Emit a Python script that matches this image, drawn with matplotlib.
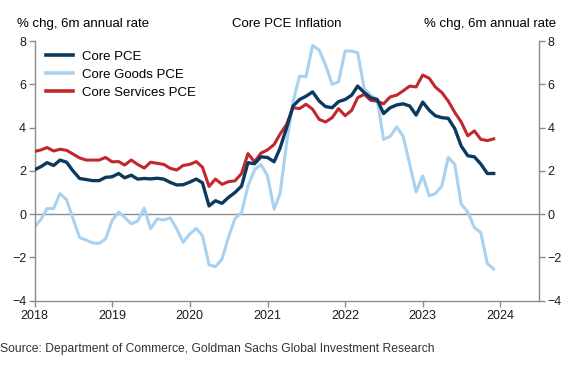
import matplotlib
matplotlib.use("Agg")
import matplotlib.pyplot as plt
import matplotlib.dates as mdates
import pandas as pd

# monthly data, Jan 2018 - Dec 2023 (% chg, 6m annual rate)
months = pd.date_range("2018-01-01", periods=72, freq="MS")

core_pce = [
    2.05, 2.2, 2.38, 2.25, 2.5, 2.4, 2.0, 1.65, 1.6, 1.55,
    1.55, 1.7, 1.73, 1.88, 1.68, 1.8, 1.62, 1.65, 1.63, 1.66,
    1.62, 1.47, 1.35, 1.36, 1.48, 1.62, 1.45, 0.38, 0.62, 0.5,
    0.77, 1.0, 1.3, 2.38, 2.33, 2.65, 2.62, 2.42, 3.05, 4.0,
    5.0, 5.3, 5.45, 5.65, 5.23, 4.97, 4.92, 5.2, 5.3, 5.5,
    5.92, 5.62, 5.38, 5.3, 4.65, 4.92, 5.05, 5.1, 5.0, 4.58,
    5.18, 4.8, 4.55, 4.46, 4.43, 3.95, 3.15, 2.7, 2.65, 2.32,
    1.88, 1.88,
]
core_goods = [
    -0.6, -0.23, 0.26, 0.26, 0.95, 0.66, -0.2, -1.08, -1.2, -1.33,
    -1.35, -1.15, -0.3, 0.1, -0.15, -0.45, -0.32, 0.28, -0.68, -0.22,
    -0.27, -0.17, -0.68, -1.3, -0.92, -0.66, -1.0, -2.34, -2.43, -2.08,
    -1.08, -0.2, 0.08, 1.3, 2.05, 2.3, 1.77, 0.23, 0.95, 3.3,
    5.2, 6.38, 6.35, 7.8, 7.58, 6.9, 6.0, 6.12, 7.54, 7.54,
    7.46, 5.8, 5.5, 5.3, 3.45, 3.6, 4.03, 3.6, 2.3, 1.03,
    1.77, 0.85, 0.95, 1.3, 2.62, 2.3, 0.46, 0.1, -0.62, -0.85,
    -2.28, -2.54,
]
core_services = [
    2.9, 2.97, 3.08, 2.92, 3.0, 2.95, 2.78, 2.6, 2.5, 2.5,
    2.5, 2.62, 2.42, 2.43, 2.27, 2.5, 2.3, 2.13, 2.4, 2.35,
    2.3, 2.12, 2.04, 2.25, 2.3, 2.43, 2.17, 1.28, 1.62, 1.38,
    1.5, 1.54, 1.88, 2.8, 2.42, 2.82, 2.97, 3.22, 3.7, 4.15,
    4.92, 4.88, 5.08, 4.85, 4.38, 4.26, 4.46, 4.88, 4.55, 4.8,
    5.38, 5.54, 5.26, 5.22, 5.1, 5.42, 5.5, 5.7, 5.92, 5.88,
    6.43, 6.28, 5.88, 5.62, 5.23, 4.7, 4.26, 3.62, 3.85, 3.46,
    3.4, 3.48,
]

yticks = [-4, -2, 0, 2, 4, 6, 8]
years = [2018, 2019, 2020, 2021, 2022, 2023, 2024]

navy = "#0c3a5f"
light = "#a9d1f0"
red = "#c1272d"
grey = "#8c8c8c"

plt.rcParams["font.family"] = ["Liberation Sans", "DejaVu Sans"]

fig = plt.figure(figsize=(5.81, 3.70), dpi=100)
ax = fig.add_axes([0.0594, 0.1873, 0.8683, 0.7017])

ax.axhline(0, color=grey, lw=1, zorder=1)
ax.plot(months, core_pce, color=navy, lw=2.4, label="Core PCE", zorder=4)
ax.plot(months, core_goods, color=light, lw=2.2, label="Core Goods PCE", zorder=2)
ax.plot(months, core_services, color=red, lw=2.2, label="Core Services PCE", zorder=3)

ax.set_xlim(pd.Timestamp("2018-01-01"), pd.Timestamp("2024-07-01"))
ax.set_ylim(-4, 8)
ax.set_yticks(yticks)
ax.set_yticklabels([str(t).replace("-", "\u2212") for t in yticks])
ax.set_xticks([pd.Timestamp(f"{y}-01-01") for y in years])
ax.xaxis.set_major_formatter(mdates.DateFormatter("%Y"))

ax.spines["top"].set_visible(False)
for side in ["left", "right", "bottom"]:
    ax.spines[side].set_color(grey)
    ax.spines[side].set_linewidth(1)

ax.tick_params(axis="both", colors=grey, labelcolor="#1a1a1a", labelsize=9,
               length=4, width=1, direction="out")
ax.tick_params(axis="y", right=True, labelright=True, pad=2)
ax.tick_params(axis="x", pad=3)

leg = ax.legend(loc="upper left", frameon=False, fontsize=9.5,
                handlelength=2.0, handletextpad=0.7, labelspacing=0.45,
                bbox_to_anchor=(0.0, 1.01))
for line in leg.get_lines():
    line.set_linewidth(2.6)

fig.text(0.494, 0.935, "Core PCE Inflation", ha="center", va="center", fontsize=9.5)
fig.text(0.029, 0.935, "% chg, 6m annual rate", ha="left", va="center", fontsize=9.5)
fig.text(0.958, 0.935, "% chg, 6m annual rate", ha="right", va="center", fontsize=9.5)
fig.text(0.0, 0.058, "Source: Department of Commerce, Goldman Sachs Global Investment Research",
         ha="left", va="center", fontsize=8.7, color="#333333")

fig.savefig("out.png", dpi=100)
